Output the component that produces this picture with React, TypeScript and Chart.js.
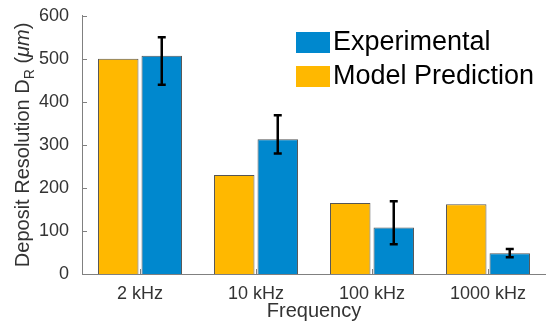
import React, { useEffect, useRef } from "react";
import { Chart, registerables } from "chart.js";
Chart.register(...registerables);

const categories = ["2 kHz", "10 kHz", "100 kHz", "1000 kHz"];
const modelPrediction = [500, 230, 165, 162];
const experimental = [507, 313, 108, 48];
const expErrLow = [440, 280, 69, 39];
const expErrHigh = [550, 369, 169, 58];
const yTickValues = [0, 100, 200, 300, 400, 500, 600];

const FONT = "'Liberation Sans', Arial, Helvetica, sans-serif";
const BLUE = "rgb(0,136,206)";
const YELLOW = "rgb(255,184,0)";
const AXIS = "#808080";
const TXT = "#333333";

const extras = {
  id: "extras",
  afterDatasetsDraw(chart: any) {
    const ctx = chart.ctx;
    const { left, top, bottom } = chart.chartArea;
    const y = chart.scales.y;
    const x = chart.scales.x;
    ctx.save();
    // inward ticks
    ctx.strokeStyle = AXIS;
    ctx.lineWidth = 1;
    yTickValues.forEach((v) => {
      const py = Math.round(y.getPixelForValue(v)) + 0.5;
      ctx.beginPath();
      ctx.moveTo(left, py);
      ctx.lineTo(left + 5, py);
      ctx.stroke();
    });
    categories.forEach((_, i) => {
      const px = Math.round(x.getPixelForValue(i)) + 0.5;
      ctx.beginPath();
      ctx.moveTo(px, bottom);
      ctx.lineTo(px, bottom - 5);
      ctx.stroke();
    });
    // error bars
    const meta = chart.getDatasetMeta(1);
    ctx.strokeStyle = "#000";
    ctx.lineWidth = 2.5;
    meta.data.forEach((bar: any, i: number) => {
      const cx = bar.x;
      const y1 = y.getPixelForValue(expErrLow[i]);
      const y2 = y.getPixelForValue(expErrHigh[i]);
      ctx.beginPath();
      ctx.moveTo(cx, y1);
      ctx.lineTo(cx, y2);
      ctx.moveTo(cx - 4, y1);
      ctx.lineTo(cx + 4, y1);
      ctx.moveTo(cx - 4, y2);
      ctx.lineTo(cx + 4, y2);
      ctx.stroke();
    });
    // legend
    const items = [
      { label: "Experimental", color: BLUE },
      { label: "Model Prediction", color: YELLOW },
    ];
    ctx.font = `27px ${FONT}`;
    ctx.textBaseline = "middle";
    ctx.textAlign = "left";
    items.forEach((it, i) => {
      const sy = 32 + i * 34;
      ctx.fillStyle = it.color;
      ctx.fillRect(296, sy, 34, 21);
      ctx.fillStyle = "#000";
      ctx.fillText(it.label, 333, sy + 11);
    });
    // y title with subscript
    const cy = (top + bottom) / 2;
    ctx.translate(28.5, cy);
    ctx.rotate(-Math.PI / 2);
    ctx.fillStyle = TXT;
    ctx.textBaseline = "alphabetic";
    const f1 = `20px ${FONT}`;
    const f2 = `14px ${FONT}`;
    const f3 = `italic 20px ${FONT}`;
    const parts = [
      { t: "Deposit Resolution D", f: f1, dy: 0 },
      { t: "R", f: f2, dy: 5 },
      { t: " (", f: f1, dy: 0 },
      { t: "\u03bcm", f: f3, dy: 0 },
      { t: ")", f: f1, dy: 0 },
    ];
    let total = 0;
    parts.forEach((p) => {
      ctx.font = p.f;
      total += ctx.measureText(p.t).width;
    });
    let cxp = -total / 2;
    parts.forEach((p) => {
      ctx.font = p.f;
      ctx.fillText(p.t, cxp, p.dy);
      cxp += ctx.measureText(p.t).width;
    });
    ctx.restore();
  },
};

export default function App() {
  const ref = useRef<HTMLCanvasElement>(null);
  useEffect(() => {
    if (!ref.current) return;
    const chart = new Chart(ref.current, {
      type: "bar",
      data: {
        labels: categories,
        datasets: [
          {
            label: "Model Prediction",
            data: modelPrediction,
            backgroundColor: YELLOW,
            borderColor: "#555",
            borderWidth: 1,
            categoryPercentage: 0.75,
            barPercentage: 0.93,
          },
          {
            label: "Experimental",
            data: experimental,
            backgroundColor: BLUE,
            borderColor: "#555",
            borderWidth: 1,
            categoryPercentage: 0.75,
            barPercentage: 0.93,
          },
        ],
      },
      options: {
        animation: false,
        responsive: false,
        maintainAspectRatio: false,
        layout: { padding: { left: 0, right: 0, top: 14, bottom: 0 } },
        plugins: { legend: { display: false }, tooltip: { enabled: false } },
        scales: {
          x: {
            grid: { display: false },
            border: { color: AXIS, width: 1 },
            ticks: { font: { size: 18, family: FONT }, color: TXT, padding: 1 },
            title: {
              display: true,
              text: "Frequency",
              font: { size: 20, family: FONT },
              color: TXT,
              padding: { top: 0, bottom: -1 },
            },
            afterFit: (s: any) => {
              s.height = 48;
            },
          },
          y: {
            min: 0,
            max: 600,
            ticks: { stepSize: 100, font: { size: 18, family: FONT }, color: TXT, padding: 5 },
            grid: { display: false },
            border: { color: AXIS, width: 1 },
            afterFit: (s: any) => {
              s.width = 82;
            },
          },
        },
      },
      plugins: [extras],
    });
    return () => chart.destroy();
  }, []);
  return (
    <div style={{ position: "absolute", left: 0, top: 0, width: 546, height: 322 }}>
      <canvas ref={ref} width={546} height={322} />
    </div>
  );
}
